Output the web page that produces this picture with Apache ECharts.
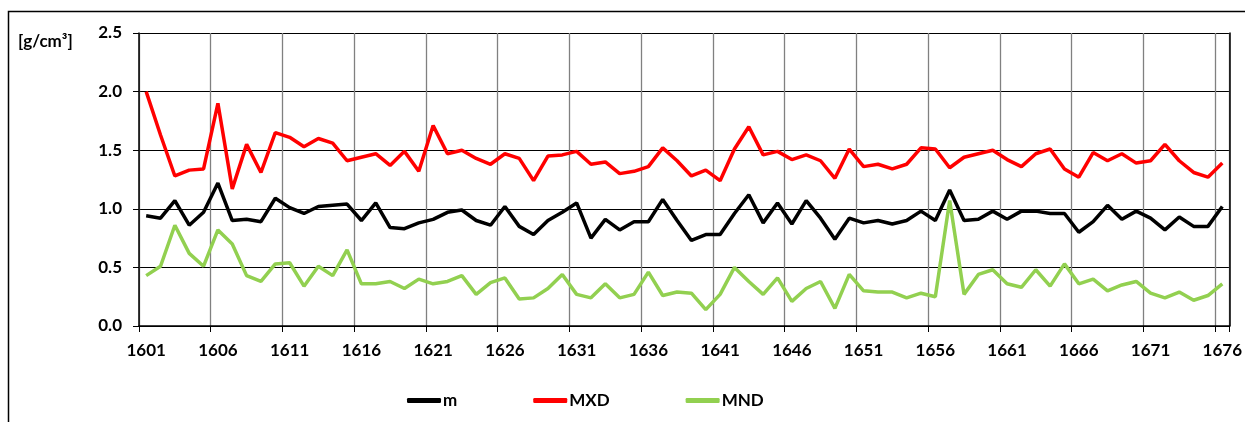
<!DOCTYPE html>
<html>
<head>
<meta charset="utf-8">
<script src="https://cdn.jsdelivr.net/npm/echarts@6/dist/echarts.min.js"></script>
<style>
html,body{margin:0;padding:0;background:#fff;}
#chart{width:1245px;height:422px;}
</style>
</head>
<body>
<div id="chart"></div>
<script>
var years = [];
for (var y = 1601; y <= 1676; y++) years.push(String(y));

var seriesNames = ['m', 'MXD', 'MND'];

var mValues = [0.94,0.92,1.07,0.86,0.97,1.22,0.90,0.91,0.89,1.09,
  1.01,0.96,1.02,1.03,1.04,0.90,1.05,0.84,0.83,0.88,
  0.91,0.97,0.99,0.90,0.86,1.02,0.85,0.78,0.90,0.97,
  1.05,0.75,0.91,0.82,0.89,0.89,1.08,0.90,0.73,0.78,
  0.78,0.96,1.12,0.88,1.05,0.87,1.07,0.92,0.74,0.92,
  0.88,0.90,0.87,0.90,0.98,0.90,1.16,0.90,0.91,0.98,
  0.91,0.98,0.98,0.96,0.96,0.80,0.89,1.03,0.91,0.98,
  0.92,0.82,0.93,0.85,0.85,1.02];

var mxdValues = [2.00,1.63,1.28,1.33,1.34,1.90,1.17,1.55,1.31,1.65,
  1.61,1.53,1.60,1.56,1.41,1.44,1.47,1.37,1.49,1.32,
  1.71,1.47,1.50,1.43,1.38,1.47,1.43,1.24,1.45,1.46,
  1.49,1.38,1.40,1.30,1.32,1.36,1.52,1.41,1.28,1.33,
  1.24,1.51,1.70,1.46,1.49,1.42,1.46,1.41,1.26,1.51,
  1.36,1.38,1.34,1.38,1.52,1.51,1.35,1.44,1.47,1.50,
  1.42,1.36,1.47,1.51,1.34,1.27,1.48,1.41,1.47,1.39,
  1.41,1.55,1.41,1.31,1.27,1.39];

var mndValues = [0.43,0.51,0.86,0.62,0.51,0.82,0.70,0.43,0.38,0.53,
  0.54,0.34,0.51,0.43,0.65,0.36,0.36,0.38,0.32,0.40,
  0.36,0.38,0.43,0.27,0.37,0.41,0.23,0.24,0.32,0.44,
  0.27,0.24,0.36,0.24,0.27,0.46,0.26,0.29,0.28,0.14,
  0.27,0.50,0.38,0.27,0.41,0.21,0.32,0.38,0.15,0.44,
  0.30,0.29,0.29,0.24,0.28,0.25,1.07,0.27,0.44,0.48,
  0.36,0.33,0.48,0.34,0.53,0.36,0.40,0.30,0.35,0.38,
  0.28,0.24,0.29,0.22,0.26,0.36];

var yTicks = ['0.0','0.5','1.0','1.5','2.0','2.5'];
var unitLabel = '[g/cm\u00B3]';

var colors = ['#000000', '#ff0000', '#92d050'];
var FONT = 'Lato, "Open Sans", sans-serif';

var chart = echarts.init(document.getElementById('chart'));
chart.setOption({
  animation: false,
  backgroundColor: '#ffffff',
  color: colors,
  graphic: [
    { type: 'rect', shape: { x: 8.5, y: 11.5, width: 1300, height: 500 },
      style: { fill: 'none', stroke: '#000', lineWidth: 1.5 }, silent: true, z: -10 },
    { type: 'text', left: 18, top: 33,
      style: { text: unitLabel, font: 'bold 17px ' + FONT, fill: '#000' } }
  ],
  grid: { left: 139, right: 12, top: 33, bottom: 96, containLabel: false },
  legend: {
    data: seriesNames,
    left: 402, top: 387,
    icon: 'roundRect',
    itemWidth: 34, itemHeight: 5,
    itemGap: 76,
    textStyle: { fontFamily: FONT, fontWeight: 'bold', fontSize: 17, color: '#000', padding: [0,0,0,-3] }
  },
  xAxis: {
    type: 'category',
    data: years,
    boundaryGap: true,
    axisLine: { lineStyle: { color: '#000', width: 1.5 } },
    axisTick: { show: true, interval: 4, length: 6, lineStyle: { color: '#000', width: 1 } },
    axisLabel: { interval: 4, margin: 16, fontFamily: FONT, fontWeight: 'bold', fontSize: 17, color: '#000' },
    splitLine: { show: true, interval: 4, lineStyle: { color: '#808080', width: 1.3 } }
  },
  yAxis: [{
    type: 'value',
    min: 0, max: 2.5, interval: 0.5,
    axisLine: { show: true, lineStyle: { color: '#000', width: 1.5 } },
    axisTick: { show: true, length: 6, lineStyle: { color: '#000' } },
    axisLabel: { margin: 17, fontFamily: FONT, fontWeight: 'bold', fontSize: 17, color: '#000',
      formatter: function (v) { return yTicks[Math.round(v / 0.5)]; } },
    splitLine: { show: true, lineStyle: { color: '#000', width: 1.2 } }
  }, {
    type: 'value', position: 'right',
    min: 0, max: 2.5, interval: 0.5,
    axisLine: { show: true, lineStyle: { color: '#000', width: 1.5 } },
    axisTick: { show: false }, axisLabel: { show: false }, splitLine: { show: false }
  }],
  series: [
    { name: 'm', type: 'line', data: mValues, symbol: 'none', lineStyle: { width: 3.5, color: colors[0] }, z: 3 },
    { name: 'MXD', type: 'line', data: mxdValues, symbol: 'none', lineStyle: { width: 3.5, color: colors[1] }, z: 3 },
    { name: 'MND', type: 'line', data: mndValues, symbol: 'none', lineStyle: { width: 3.5, color: colors[2] }, z: 3 }
  ]
});
</script>
</body>
</html>
